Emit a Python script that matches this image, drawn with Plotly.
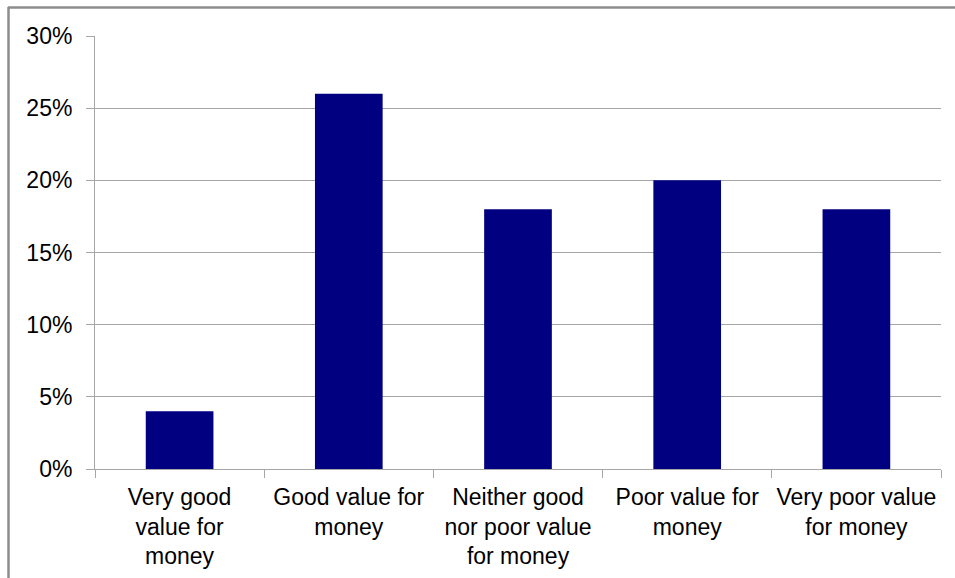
import plotly.graph_objects as go

categories = [
    "Very good<br>value for<br>money",
    "Good value for<br>money",
    "Neither good<br>nor poor value<br>for money",
    "Poor value for<br>money",
    "Very poor value<br>for money",
]
values = [4, 26, 18, 20, 18]
y_ticks = [0, 5, 10, 15, 20, 25, 30]
y_tick_labels = [f"{v}%" for v in y_ticks]

W, H = 955, 578
L, R, T, B = 95, 14, 36, 109
pw, ph = W - L - R, H - T - B

fig = go.Figure(go.Bar(x=categories, y=values, marker=dict(color="#000080", line=dict(width=0)), width=0.4))

def px_x(p):
    return (p - L) / pw

def px_y(p):
    return (H - B - p) / ph

grey = "#8c8c8c"
fig.add_shape(type="line", xref="paper", yref="paper", x0=px_x(8.5), x1=px_x(8.5), y0=px_y(7), y1=px_y(600),
              line=dict(color=grey, width=2.5))
fig.add_shape(type="line", xref="paper", yref="paper", x0=px_x(8), x1=px_x(1000), y0=px_y(7.5), y1=px_y(7.5),
              line=dict(color=grey, width=2.5))

fig.update_layout(
    width=W, height=H,
    margin=dict(l=L, r=R, t=T, b=B),
    paper_bgcolor="white", plot_bgcolor="white",
    font=dict(family="Liberation Sans, Arial, sans-serif", size=23, color="black"),
    showlegend=False,
    bargap=0.6,
)
fig.update_yaxes(range=[0, 30], tickvals=y_ticks, ticktext=y_tick_labels,
                 showgrid=True, gridcolor="#a6a6a6", gridwidth=1,
                 showline=True, linecolor="#a6a6a6", linewidth=1,
                 ticks="outside", ticklen=8, tickcolor="#a6a6a6",
                 ticklabelstandoff=9, zeroline=False, fixedrange=True, automargin=False)
fig.update_xaxes(showline=True, linecolor="#a6a6a6", linewidth=1,
                 ticks="outside", ticklen=8, tickcolor="#a6a6a6",
                 tickson="boundaries", showgrid=False, tickangle=0,
                 ticklabelstandoff=7, fixedrange=True, automargin=False)

fig.write_html("out.html")
